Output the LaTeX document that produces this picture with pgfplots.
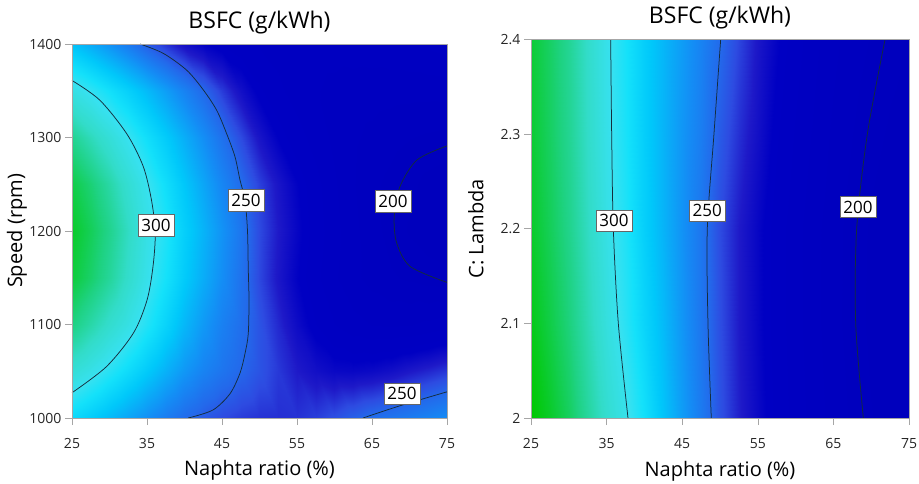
\documentclass[border=0pt]{standalone}
\usepackage{fontspec}
\setmainfont{Open Sans}
\usepackage{pgfplots}
\usepackage{pgfplotstable}
\pgfplotsset{compat=1.18}
\definecolor{cline}{RGB}{20,45,60}

\pgfplotstableread{
x y f
25 1000 288
27.5 1000 282
30 1000 276
32.5 1000 269.5
35 1000 263
37.5 1000 256.5
40 1000 251
42.5 1000 246.5
45 1000 243
47.5 1000 240.5
50 1000 239
52.5 1000 238.5
55 1000 239
57.5 1000 241
60 1000 244
62.5 1000 248
65 1000 251.5
67.5 1000 254
70 1000 256.5
72.5 1000 259
75 1000 262
25 1050 310
27.5 1050 303.5
30 1050 296.5
32.5 1050 289
35 1050 281
37.5 1050 273
40 1050 265.5
42.5 1050 259
45 1050 254
47.5 1050 249.5
50 1050 245
52.5 1050 240
55 1050 235
57.5 1050 231.5
60 1050 229
62.5 1050 228.5
65 1050 229.5
67.5 1050 231.5
70 1050 234.5
72.5 1050 237
75 1050 240
25 1100 330
27.5 1100 321.5
30 1100 313
32.5 1100 304.5
35 1100 295
37.5 1100 285
40 1100 275
42.5 1100 266
45 1100 258
47.5 1100 252
50 1100 245
52.5 1100 237.5
55 1100 230
57.5 1100 223.5
60 1100 218.5
62.5 1100 215
65 1100 213
67.5 1100 212.5
70 1100 213
72.5 1100 214.5
75 1100 216
25 1150 342
27.5 1150 334
30 1150 325
32.5 1150 313.5
35 1150 302
37.5 1150 292
40 1150 281.5
42.5 1150 272
45 1150 262.5
47.5 1150 253
50 1150 242.5
52.5 1150 234
55 1150 226.5
57.5 1150 219.5
60 1150 214
62.5 1150 209.5
65 1150 206
67.5 1150 203.5
70 1150 202
72.5 1150 200.5
75 1150 199.5
25 1200 345
27.5 1200 337
30 1200 328
32.5 1200 316
35 1200 304
37.5 1200 294.5
40 1200 283.5
42.5 1200 274
45 1200 264
47.5 1200 254.5
50 1200 243
52.5 1200 235
55 1200 228
57.5 1200 221
60 1200 215
62.5 1200 209.5
65 1200 205
67.5 1200 200.8
70 1200 197
72.5 1200 194.5
75 1200 193
25 1250 340
27.5 1250 332
30 1250 322.5
32.5 1250 311
35 1250 300.5
37.5 1250 290
40 1250 280
42.5 1250 270
45 1250 260
47.5 1250 251
50 1250 241.5
52.5 1250 233.5
55 1250 226.5
57.5 1250 220
60 1250 214
62.5 1250 208.5
65 1250 204
67.5 1250 201.5
70 1250 199
72.5 1250 196
75 1250 194.5
25 1300 327
27.5 1300 318
30 1300 309.5
32.5 1300 300
35 1300 290.5
37.5 1300 281.5
40 1300 272.5
42.5 1300 263
45 1300 253
47.5 1300 243
50 1300 233.5
52.5 1300 226
55 1300 220.5
57.5 1300 216
60 1300 212
62.5 1300 209
65 1300 206.5
67.5 1300 204.5
70 1300 203
72.5 1300 202
75 1300 201.2
25 1350 305
27.5 1350 298.5
30 1350 291.5
32.5 1350 284
35 1350 276
37.5 1350 267.5
40 1350 259
42.5 1350 250.3
45 1350 240.5
47.5 1350 231.5
50 1350 224.5
52.5 1350 219.5
55 1350 216
57.5 1350 213.5
60 1350 212
62.5 1350 211
65 1350 210.5
67.5 1350 210
70 1350 209.8
72.5 1350 209.8
75 1350 210
25 1400 278
27.5 1400 271
30 1400 264
32.5 1400 256
35 1400 247
37.5 1400 239
40 1400 232
42.5 1400 227
45 1400 223
47.5 1400 220
50 1400 218
52.5 1400 216.5
55 1400 215.5
57.5 1400 215
60 1400 215
62.5 1400 215.5
65 1400 216
67.5 1400 217
70 1400 218
72.5 1400 219.5
75 1400 221
}\speedtable

\pgfplotstableread{
x y f
25 2.0 353
27.5 2.0 345
30 2.0 336
32.5 2.0 324
35 2.0 312
37.5 2.0 302.5
40 2.0 291.5
42.5 2.0 279
45 2.0 267
47.5 2.0 256
50 2.0 244.5
52.5 2.0 236
55 2.0 229
57.5 2.0 222
60 2.0 216
62.5 2.0 210.5
65 2.0 206
67.5 2.0 202
70 2.0 198
72.5 2.0 195.5
75 2.0 194
25 2.1 348
27.5 2.1 340
30 2.1 331
32.5 2.1 319
35 2.1 306.5
37.5 2.1 296.5
40 2.1 286
42.5 2.1 276
45 2.1 265
47.5 2.1 254.5
50 2.1 243.5
52.5 2.1 235
55 2.1 228
57.5 2.1 221
60 2.1 215
62.5 2.1 209.5
65 2.1 204.8
67.5 2.1 200.6
70 2.1 196.5
72.5 2.1 194
75 2.1 192.5
25 2.2 345
27.5 2.2 337
30 2.2 328
32.5 2.2 316
35 2.2 304
37.5 2.2 294.5
40 2.2 283.5
42.5 2.2 274
45 2.2 264
47.5 2.2 254.5
50 2.2 243
52.5 2.2 235
55 2.2 228
57.5 2.2 221
60 2.2 215
62.5 2.2 209.5
65 2.2 205
67.5 2.2 200.8
70 2.2 197
72.5 2.2 194.5
75 2.2 193
25 2.3 343.5
27.5 2.3 335.5
30 2.3 326.5
32.5 2.3 314.5
35 2.3 302.5
37.5 2.3 293
40 2.3 283
42.5 2.3 274
45 2.3 265
47.5 2.3 257
50 2.3 246.5
52.5 2.3 238.5
55 2.3 231.5
57.5 2.3 224
60 2.3 217.5
62.5 2.3 212
65 2.3 207
67.5 2.3 203
70 2.3 199.5
72.5 2.3 197
75 2.3 195.5
25 2.4 343
27.5 2.4 335
30 2.4 326
32.5 2.4 314
35 2.4 302
37.5 2.4 292.5
40 2.4 283
42.5 2.4 275
45 2.4 267
47.5 2.4 259
50 2.4 250.5
52.5 2.4 242
55 2.4 234
57.5 2.4 227
60 2.4 220.5
62.5 2.4 214.5
65 2.4 209.5
67.5 2.4 205.5
70 2.4 202.5
72.5 2.4 199.5
75 2.4 197
}\lambdatable

\tikzset{lbl/.style={draw=gray!80!black, fill=white, inner xsep=3.5pt, inner ysep=4.5pt, line width=0.6pt, font=\fontsize{17}{19}\selectfont}}

\pgfplotsset{
  colormap={bsfc}{rgb255(0pt)=(0,0,188); rgb255(36pt)=(0,0,195); rgb255(45pt)=(30,25,200);
    rgb255(53pt)=(45,75,225); rgb255(60pt)=(35,105,235); rgb255(72pt)=(20,140,245);
    rgb255(90pt)=(0,200,250); rgb255(102pt)=(20,225,250); rgb255(110pt)=(55,225,240);
    rgb255(125pt)=(50,220,200); rgb255(140pt)=(30,210,130); rgb255(162pt)=(0,200,0)},
  myax/.style={
    scale only axis,
    colormap name=bsfc,
    point meta min=190, point meta max=352,
    tick align=outside, tick pos=left,
    axis line style={gray!70},
    major tick style={gray!70, line width=0.6pt},
    major tick length=7pt,
    tick label style={font=\fontsize{14}{16}\selectfont, text=black!85},
    xticklabel style={yshift=-10pt},
    title style={font=\fontsize{23}{26}\selectfont, at={(axis description cs:0.5,1.042)}, anchor=center},
    /pgf/number format/assume math mode=true,
    /pgf/number format/1000 sep={},
    scaled ticks=false,
    xmin=25, xmax=75, xtick={25,35,45,55,65,75},
    xlabel={Naphta ratio (\%)},
    title={BSFC (g/kWh)},
    axis on top,
  },
  cont/.style={no markers, smooth, line width=0.75pt, color=cline},
}

\begin{document}
\begin{tikzpicture}
\path[use as bounding box] (0,0) rectangle (919pt,483pt);

\begin{axis}[myax, at={(72pt,65pt)}, anchor=south west, width=375pt, height=374pt,
  ymin=1000, ymax=1400, ytick={1000,1100,1200,1300,1400}, ylabel={Speed (rpm)},
  xlabel style={font=\fontsize{20}{24}\selectfont, at={(axis description cs:0.5,-0.139)}, anchor=center},
  ylabel style={font=\fontsize{20}{24}\selectfont, at={(axis description cs:-0.147,0.5)}, anchor=center}]
\addplot[surf, shader=interp, mesh/cols=21, point meta=explicit] table[x=x, y=y, meta=f] {\speedtable};
\addplot[cont] coordinates {(25,1361) (28.7,1340) (32.3,1304) (34.5,1269) (35.6,1233) (36.1,1198) (35.8,1162) (35.0,1126) (33.2,1091) (29.6,1055) (25,1027)};
\addplot[cont] coordinates {(34.07,1400) (37.17,1390) (40.29,1372) (42.5,1351) (44.3,1329) (45.6,1304.5) (46.73,1279.5) (47.4,1254.5) (48.07,1233) (48.4,1200) (48.5,1160) (48.6,1126) (48.5,1090) (48.07,1069) (47.4,1048) (46.07,1026) (43.8,1008.6) (40.5,1000)};
\addplot[cont] coordinates {(75,1291) (71.0,1276) (68.7,1247) (67.96,1215) (68.3,1187) (70.1,1162) (75,1145)};
\addplot[cont] coordinates {(63.8,1000) (68.7,1013) (75,1028)};
\node[lbl] at (axis cs:36.2,1206) {300};
\node[lbl] at (axis cs:48.2,1233) {250};
\node[lbl] at (axis cs:67.8,1232) {200};
\node[lbl] at (axis cs:69.0,1026) {250};
\end{axis}

\begin{axis}[myax, at={(531pt,65pt)}, anchor=south west, width=378pt, height=378.5pt,
  ymin=2, ymax=2.4, ytick={2,2.1,2.2,2.3,2.4}, ylabel={C: Lambda},
  xlabel style={font=\fontsize{20}{24}\selectfont, at={(axis description cs:0.5,-0.142)}, anchor=center},
  ylabel style={font=\fontsize{20}{24}\selectfont, at={(axis description cs:-0.1455,0.5)}, anchor=center}]
\addplot[surf, shader=interp, mesh/cols=21, point meta=explicit] table[x=x, y=y, meta=f] {\lambdatable};
\addplot[cont] coordinates {(37.83,2.0) (36.55,2.1) (35.89,2.2) (35.67,2.3) (35.54,2.4)};
\addplot[cont] coordinates {(48.85,2.0) (48.41,2.1) (48.32,2.2) (49.2,2.3) (50.09,2.4)};
\addplot[cont] coordinates {(68.96,2.0) (67.95,2.1) (68.08,2.2) (69.49,2.3) (71.83,2.4)};
\node[lbl] at (axis cs:35.98,2.2085) {300};
\node[lbl] at (axis cs:48.32,2.219) {250};
\node[lbl] at (axis cs:68.25,2.223) {200};
\end{axis}
\end{tikzpicture}
\end{document}
